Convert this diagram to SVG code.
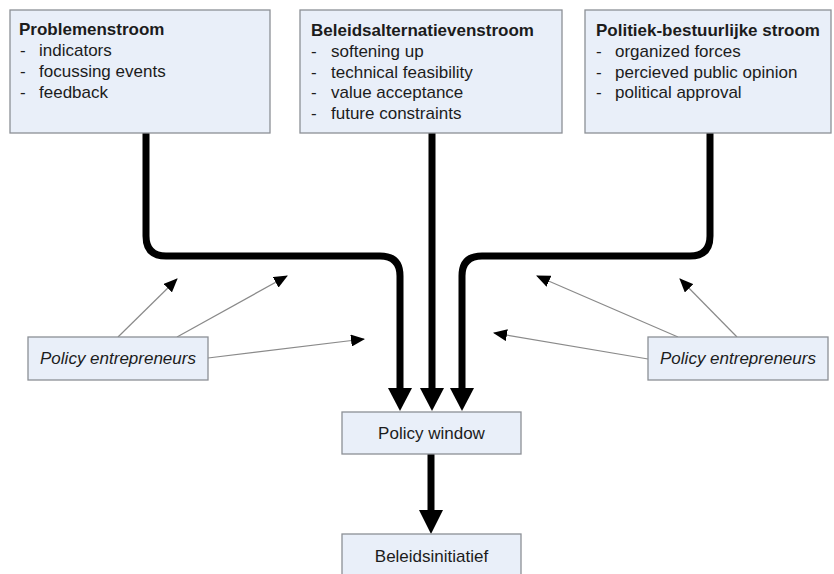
<svg xmlns="http://www.w3.org/2000/svg" width="834" height="574" viewBox="0 0 834 574">
<style>
.box{fill:#e9eff9;stroke:#8c9096;stroke-width:1.3}
.t{font-family:"Liberation Sans",Arial,sans-serif;font-size:17px;fill:#1c1c1c}
.b{font-weight:bold}
.i{font-style:italic}
.thick{fill:none;stroke:#000;stroke-width:7}
.thin{fill:none;stroke:#8a8a8a;stroke-width:1.2;marker-end:url(#ah)}
</style>
<defs>
<marker id="ah" markerWidth="14" markerHeight="12" refX="13" refY="6" orient="auto" markerUnits="userSpaceOnUse">
<path d="M0,0 L14,6 L0,12 Z" fill="#000"/>
</marker>
</defs>
<rect width="834" height="574" fill="#fff"/>
<g id="connectors">
<path class="thick" d="M146,133 V236 Q146,256 166,256 H380 Q400,256 400,276 V390"/>
<polygon points="388,388 412,388 400,411" fill="#000"/>
<path class="thick" d="M432,133 V390"/>
<polygon points="420,388 444,388 432,411" fill="#000"/>
<path class="thick" d="M710,133 V236 Q710,256 690,256 H482 Q462,256 462,276 V390"/>
<polygon points="450,388 474,388 462,411" fill="#000"/>
<path class="thick" d="M431,454 V512"/>
<polygon points="419,510 443,510 431,534" fill="#000"/>
<line class="thin" x1="118" y1="337" x2="177" y2="279"/>
<line class="thin" x1="177" y1="337" x2="287" y2="276"/>
<line class="thin" x1="208" y1="358" x2="364" y2="339"/>
<line class="thin" x1="737" y1="337" x2="680" y2="279"/>
<line class="thin" x1="678" y1="337" x2="537" y2="276"/>
<line class="thin" x1="648" y1="359" x2="494" y2="333"/>
</g>
<g id="problemenstroom">
<rect class="box" x="10" y="10" width="260" height="123"/>
<text class="t b" x="19" y="35">Problemenstroom</text>
<text class="t" x="20" y="56">-</text><text class="t" x="39" y="56">indicators</text>
<text class="t" x="20" y="77">-</text><text class="t" x="39" y="77">focussing events</text>
<text class="t" x="20" y="98">-</text><text class="t" x="39" y="98">feedback</text>
</g>
<g id="beleidsalternatievenstroom">
<rect class="box" x="300" y="10" width="262" height="123"/>
<text class="t b" x="311" y="36">Beleidsalternatievenstroom</text>
<text class="t" x="311" y="57">-</text><text class="t" x="331" y="57">softening up</text>
<text class="t" x="311" y="77.5">-</text><text class="t" x="331" y="77.5">technical feasibility</text>
<text class="t" x="311" y="98">-</text><text class="t" x="331" y="98">value acceptance</text>
<text class="t" x="311" y="118.5">-</text><text class="t" x="331" y="118.5">future constraints</text>
</g>
<g id="politiek">
<rect class="box" x="585" y="10" width="246" height="123"/>
<text class="t b" x="596" y="36">Politiek-bestuurlijke stroom</text>
<text class="t" x="596" y="57">-</text><text class="t" x="615" y="57">organized forces</text>
<text class="t" x="596" y="77.5">-</text><text class="t" x="615" y="77.5">percieved public opinion</text>
<text class="t" x="596" y="98">-</text><text class="t" x="615" y="98">political approval</text>
</g>
<g id="pe-left">
<rect class="box" x="28" y="337" width="180" height="43"/>
<text class="t i" x="118" y="364" text-anchor="middle">Policy entrepreneurs</text>
</g>
<g id="pe-right">
<rect class="box" x="648" y="337" width="180" height="43"/>
<text class="t i" x="738" y="364" text-anchor="middle">Policy entrepreneurs</text>
</g>
<g id="policy-window">
<rect class="box" x="342" y="412" width="179" height="42"/>
<text class="t" x="431.5" y="439" text-anchor="middle">Policy window</text>
</g>
<g id="beleidsinitiatief">
<rect class="box" x="342" y="534" width="179" height="45"/>
<text class="t" x="431.5" y="562" text-anchor="middle">Beleidsinitiatief</text>
</g>
</svg>
